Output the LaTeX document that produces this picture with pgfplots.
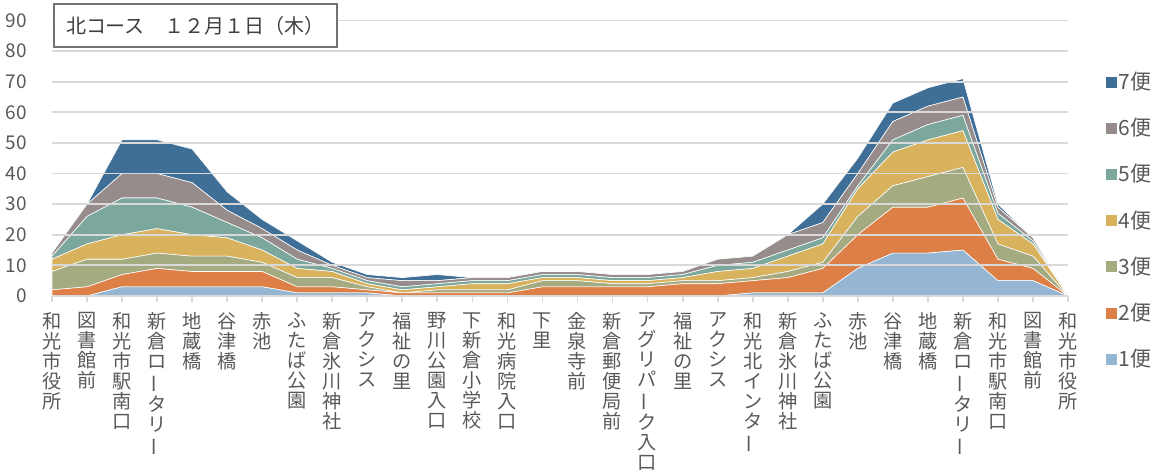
\documentclass[border=0pt]{standalone}
\usepackage{pgfplots}
\pgfplotsset{compat=1.18}
\usepackage{pgfplotstable}
\usepackage{fontspec}
\setmainfont{Noto Sans CJK JP}

\definecolor{c1}{HTML}{94B6D2}
\definecolor{c2}{HTML}{DD8047}
\definecolor{c3}{HTML}{A5AB81}
\definecolor{c4}{HTML}{D8B25C}
\definecolor{c5}{HTML}{7BA79D}
\definecolor{c6}{HTML}{968C8C}
\definecolor{c7}{HTML}{3F6F97}
\definecolor{txt}{HTML}{595959}
\definecolor{grd}{HTML}{D9D9D9}

% passengers per stop, one column per run (stacked)
\pgfplotstableread{
x b1 b2 b3 b4 b5 b6 b7
0 0 2 6 4 1 1 0
1 0 3 9 5 9 4 0
2 3 4 5 8 12 8 11
3 3 6 5 8 10 8 11
4 3 5 5 7 9 8 11
5 3 5 5 6 5 4 6
6 3 5 3 4 4 3 3
7 1 2 3 3 3 3 3
8 1 2 3 2 1 1 1
9 1 1 1 1 1 1 1
10 0 1 0 1 1 2 1
11 0 1 1 1 1 1 2
12 0 1 1 2 1 1 0
13 0 1 1 2 1 1 0
14 0 3 2 1 1 1 0
15 0 3 2 1 1 1 0
16 0 3 1 1 1 1 0
17 0 3 1 1 1 1 0
18 0 4 1 1 1 1 0
19 0 4 1 3 2 2 0
20 1 4 1 3 2 2 0
21 1 5 2 5 2 5 0
22 1 8 2 6 2 5 6
23 9 11 6 9 1 4 5
24 14 15 7 11 4 6 6
25 14 15 10 12 5 6 6
26 15 17 10 12 5 6 6
27 5 7 5 8 2 2 1
28 5 4 4 4 1 1 0
29 0 0 0 0 0 0 0
}\loads

\newcommand{\vb}{\rotatebox[origin=c]{90}{ー}}

\begin{document}
\begin{tikzpicture}
\begin{axis}[
  at={(0,0)}, anchor=origin,
  scale only axis, width=508pt, height=137.75pt,
  xmin=0, xmax=29, ymin=0, ymax=90,
  stack plots=y, area style,
  axis line style={draw=none},
  ymajorgrids, grid style={grd, line width=0.9pt},
  ytick={0,10,...,90},
  xtick={0,...,29},
  xticklabels={
    {和\\光\\市\\役\\所},{図\\書\\館\\前},{和\\光\\市\\駅\\南\\口},
    {新\\倉\\ロ\\\vb\\タ\\リ\\\vb},{地\\蔵\\橋},{谷\\津\\橋},{赤\\池},
    {ふ\\た\\ば\\公\\園},{新\\倉\\氷\\川\\神\\社},{ア\\ク\\シ\\ス},
    {福\\祉\\の\\里},{野\\川\\公\\園\\入\\口},{下\\新\\倉\\小\\学\\校},
    {和\\光\\病\\院\\入\\口},{下\\里},{金\\泉\\寺\\前},
    {新\\倉\\郵\\便\\局\\前},{ア\\グ\\リ\\パ\\\vb\\ク\\入\\口},
    {福\\祉\\の\\里},{ア\\ク\\シ\\ス},{和\\光\\北\\イ\\ン\\タ\\\vb},
    {新\\倉\\氷\\川\\神\\社},{ふ\\た\\ば\\公\\園},{赤\\池},{谷\\津\\橋},
    {地\\蔵\\橋},{新\\倉\\ロ\\\vb\\タ\\リ\\\vb},{和\\光\\市\\駅\\南\\口},
    {図\\書\\館\\前},{和\\光\\市\\役\\所}},
  tick pos=left,
  ytick style={draw=none},
  xtick style={grd, line width=0.9pt},
  major tick length=3pt,
  tick align=outside,
  ticklabel style={text=txt},
  /pgf/number format/assume math mode=true,
  yticklabel style={font=\fontsize{9.5}{10}\selectfont, inner sep=0pt, xshift=-9.5pt},
  xticklabel style={font=\fontsize{9.6}{10}\selectfont, align=center, inner sep=0pt, anchor=north, yshift=-5pt},
  legend style={at={(axis description cs:1.037,0.82)}, anchor=north west,
    draw=none, fill=none, font=\fontsize{10.5}{11}\selectfont, text=txt,
    row sep=11.2pt, inner sep=0pt, nodes={inner sep=0.8pt}},
  legend cell align=left,
  reverse legend,
  legend image code/.code={\fill[#1,draw=none] (0pt,-2.75pt) rectangle (5.5pt,2.75pt);},
]
\addplot[fill=c1, draw=white, line width=0.3pt] table[x=x, y=b1] {\loads} \closedcycle;
\addlegendentry{1便}
\addplot[fill=c2, draw=white, line width=0.3pt] table[x=x, y=b2] {\loads} \closedcycle;
\addlegendentry{2便}
\addplot[fill=c3, draw=white, line width=0.3pt] table[x=x, y=b3] {\loads} \closedcycle;
\addlegendentry{3便}
\addplot[fill=c4, draw=white, line width=0.3pt] table[x=x, y=b4] {\loads} \closedcycle;
\addlegendentry{4便}
\addplot[fill=c5, draw=white, line width=0.3pt] table[x=x, y=b5] {\loads} \closedcycle;
\addlegendentry{5便}
\addplot[fill=c6, draw=white, line width=0.3pt] table[x=x, y=b6] {\loads} \closedcycle;
\addlegendentry{6便}
\addplot[fill=c7, draw=white, line width=0.3pt] table[x=x, y=b7] {\loads} \closedcycle;
\addlegendentry{7便}
\end{axis}
\node[draw=black!55, line width=1pt, fill=white, anchor=north west,
  minimum width=141.5pt, minimum height=21.5pt, inner sep=0pt,
  font=\fontsize{10}{12}\selectfont, text=black!75]
  at (0.5pt,146.5pt) {北コース　１２月１日（木）};
\pgfresetboundingbox
\path[use as bounding box] (-26pt,-89pt) rectangle (553pt,148pt);
\end{tikzpicture}
\end{document}
